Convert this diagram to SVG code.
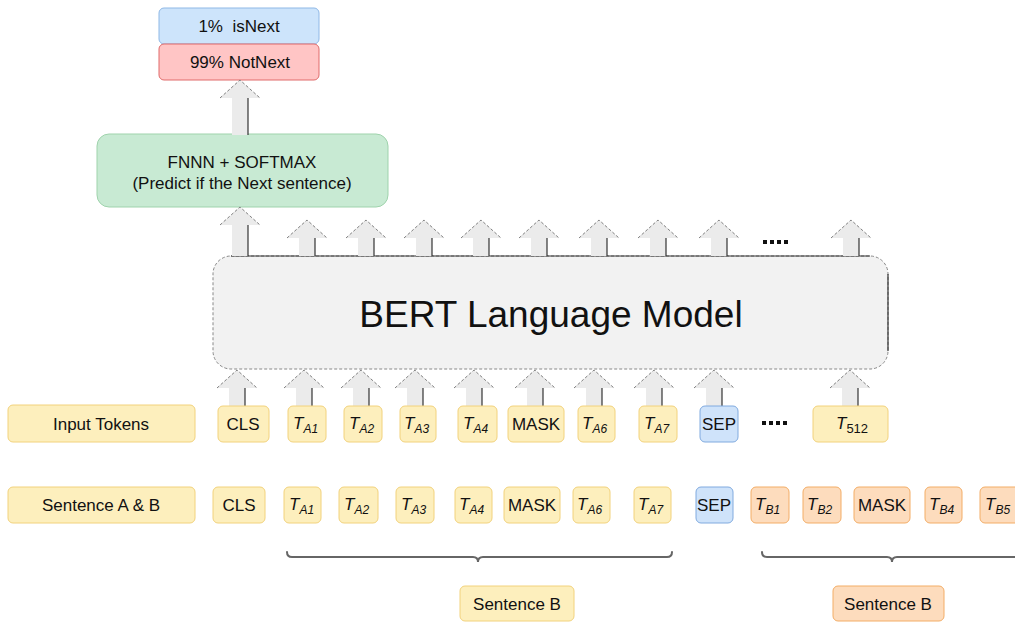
<svg xmlns="http://www.w3.org/2000/svg" width="1015" height="622" viewBox="0 0 1015 622">
  <style>
    text { font-family: "Liberation Sans", Arial, sans-serif; fill: #111; }
    .lbl { font-size: 17px; text-anchor: middle; }
    .tok { font-size: 17px; text-anchor: middle; }
    .t { font-style: italic; font-size: 17px; }
    .sub { font-style: italic; font-size: 12px; }
    .yel { fill: #fdefbd; stroke: #f2d27c; stroke-width: 1; }
    .org { fill: #fddcbd; stroke: #f3ad66; stroke-width: 1; }
    .blu { fill: #cfe3fa; stroke: #80aadf; stroke-width: 1; }
    .shaft { fill: #ebebeb; }
    .head { fill: none; stroke: #808080; stroke-width: 1; stroke-dasharray: 3 2; }
    .edge { fill: none; stroke: #333; stroke-width: 1.2; }
    .brace { fill: none; stroke: #666; stroke-width: 2; stroke-linecap: round; }
  </style>
  <defs>
    <!-- block arrow, tip at (0,0), 36px long -->
    <g id="arr36">
      <polygon class="shaft" points="-8,36 -8,18 -20,18 0,0 20,18 8,18 8,36"/>
      <path class="head" d="M-20,18 L0,0 L20,18"/>
      <path class="edge" d="M8,18 V36"/>
    </g>
    <g id="arr49">
      <polygon class="shaft" points="-8,49 -8,18 -20,18 0,0 20,18 8,18 8,49"/>
      <path class="head" d="M-20,18 L0,0 L20,18"/>
      <path class="edge" d="M8,18 V49"/>
    </g>
    <g id="arr55">
      <polygon class="shaft" points="-8,55 -8,18 -20,18 0,0 20,18 8,18 8,55"/>
      <path class="head" d="M-20,18 L0,0 L20,18"/>
      <path class="edge" d="M8,18 V55"/>
    </g>
  </defs>

  <!-- output probabilities -->
  <g id="out-isnext">
    <rect x="159" y="8" width="160" height="36" rx="5" fill="#cde4fb" stroke="#8fb8e6"/>
    <text class="lbl" x="239" y="32" xml:space="preserve">1%  isNext</text>
  </g>
  <g id="out-notnext">
    <rect x="159" y="44" width="160" height="36" rx="5" fill="#ffc5c5" stroke="#e06b6b"/>
    <text class="lbl" x="240" y="68">99% NotNext</text>
  </g>

  <!-- classifier head -->
  <g id="fnnn">
    <rect x="97" y="134" width="291" height="73" rx="12" fill="#c8ead3" stroke="#9fd3ac"/>
    <text class="lbl" x="242" y="168">FNNN + SOFTMAX</text>
    <text class="lbl" x="242" y="189">(Predict if the Next sentence)</text>
  </g>

  <!-- encoder -->
  <g id="bert">
    <rect x="213" y="256" width="675" height="113" rx="18" fill="#f2f2f2" stroke="#888" stroke-dasharray="3 2"/>
    <path class="edge" d="M231,256 H870"/>
    <path class="edge" d="M888,274 V351"/>
    <text x="551" y="327" font-size="37" text-anchor="middle">BERT Language Model</text>
  </g>

  <!-- connectors -->
  <g id="connectors">
    <use href="#arr55" x="240" y="80"/>
    <use href="#arr49" x="240" y="207"/>
    <use href="#arr36" x="307" y="220"/>
    <use href="#arr36" x="366" y="220"/>
    <use href="#arr36" x="424" y="220"/>
    <use href="#arr36" x="481" y="220"/>
    <use href="#arr36" x="539" y="220"/>
    <use href="#arr36" x="599" y="220"/>
    <use href="#arr36" x="658" y="220"/>
    <use href="#arr36" x="719" y="220"/>
    <use href="#arr36" x="851" y="220"/>
    <use href="#arr36" x="237" y="370"/>
    <use href="#arr36" x="304" y="370"/>
    <use href="#arr36" x="361" y="370"/>
    <use href="#arr36" x="415" y="370"/>
    <use href="#arr36" x="474" y="370"/>
    <use href="#arr36" x="535" y="370"/>
    <use href="#arr36" x="594" y="370"/>
    <use href="#arr36" x="654" y="370"/>
    <use href="#arr36" x="714" y="370"/>
    <use href="#arr36" x="850" y="370"/>
    <path class="brace" d="M287,552 Q287,557 292,557 H473 Q478,557 478,562 Q478,557 483,557 H667 Q672,557 672,552"/>
    <path class="brace" d="M762,552 Q762,557 767,557 H887 Q892,557 892,562 Q892,557 897,557 H1020"/>
  </g>

  <!-- ellipses -->
  <g id="dots-top" fill="#111">
    <rect x="763" y="240" width="4" height="4"/><rect x="770" y="240" width="4" height="4"/>
    <rect x="777" y="240" width="4" height="4"/><rect x="784" y="240" width="4" height="4"/>
  </g>
  <g id="dots-mid" fill="#111">
    <rect x="762" y="421" width="4" height="4"/><rect x="769" y="421" width="4" height="4"/>
    <rect x="776" y="421" width="4" height="4"/><rect x="783" y="421" width="4" height="4"/>
  </g>

  <!-- input token row -->
  <g id="row-input">
    <g id="in-label"><rect class="yel" x="8" y="405" width="187" height="37" rx="5"/><text class="lbl" x="101" y="430">Input Tokens</text></g>
    <g id="in-cls"><rect class="yel" x="218" y="406" width="51" height="36" rx="5"/><text class="tok" x="243" y="430">CLS</text></g>
    <g id="in-ta1"><rect class="yel" x="288" y="406" width="38" height="36" rx="5"/><text x="293" y="429"><tspan class="t">T</tspan><tspan class="sub" dy="4">A1</tspan></text></g>
    <g id="in-ta2"><rect class="yel" x="344" y="406" width="38" height="36" rx="5"/><text x="349" y="429"><tspan class="t">T</tspan><tspan class="sub" dy="4">A2</tspan></text></g>
    <g id="in-ta3"><rect class="yel" x="400" y="406" width="36" height="36" rx="5"/><text x="404" y="429"><tspan class="t">T</tspan><tspan class="sub" dy="4">A3</tspan></text></g>
    <g id="in-ta4"><rect class="yel" x="458" y="406" width="39" height="36" rx="5"/><text x="463" y="429"><tspan class="t">T</tspan><tspan class="sub" dy="4">A4</tspan></text></g>
    <g id="in-mask"><rect class="yel" x="508" y="406" width="56" height="36" rx="5"/><text class="tok" x="536" y="430">MASK</text></g>
    <g id="in-ta6"><rect class="yel" x="578" y="406" width="37" height="36" rx="5"/><text x="582" y="429"><tspan class="t">T</tspan><tspan class="sub" dy="4">A6</tspan></text></g>
    <g id="in-ta7"><rect class="yel" x="639" y="406" width="38" height="36" rx="5"/><text x="644" y="429"><tspan class="t">T</tspan><tspan class="sub" dy="4">A7</tspan></text></g>
    <g id="in-sep"><rect class="blu" x="700" y="406" width="38" height="36" rx="5"/><text class="tok" x="719" y="430">SEP</text></g>
    <g id="in-t512"><rect class="yel" x="813" y="406" width="75" height="36" rx="5"/><text x="836" y="429"><tspan class="t">T</tspan><tspan font-size="13" dy="4">512</tspan></text></g>
  </g>

  <!-- sentence pair row -->
  <g id="row-sentence">
    <g id="s-label"><rect class="yel" x="8" y="487" width="187" height="36" rx="5"/><text class="lbl" x="101" y="511">Sentence A &amp; B</text></g>
    <g id="s-cls"><rect class="yel" x="213" y="487" width="52" height="36" rx="5"/><text class="tok" x="239" y="511">CLS</text></g>
    <g id="s-ta1"><rect class="yel" x="284" y="487" width="37" height="36" rx="5"/><text x="289" y="510"><tspan class="t">T</tspan><tspan class="sub" dy="4">A1</tspan></text></g>
    <g id="s-ta2"><rect class="yel" x="339" y="487" width="39" height="36" rx="5"/><text x="344" y="510"><tspan class="t">T</tspan><tspan class="sub" dy="4">A2</tspan></text></g>
    <g id="s-ta3"><rect class="yel" x="396" y="487" width="38" height="36" rx="5"/><text x="401" y="510"><tspan class="t">T</tspan><tspan class="sub" dy="4">A3</tspan></text></g>
    <g id="s-ta4"><rect class="yel" x="455" y="487" width="37" height="36" rx="5"/><text x="459" y="510"><tspan class="t">T</tspan><tspan class="sub" dy="4">A4</tspan></text></g>
    <g id="s-mask"><rect class="yel" x="504" y="487" width="56" height="36" rx="5"/><text class="tok" x="532" y="511">MASK</text></g>
    <g id="s-ta6"><rect class="yel" x="573" y="487" width="37" height="36" rx="5"/><text x="577" y="510"><tspan class="t">T</tspan><tspan class="sub" dy="4">A6</tspan></text></g>
    <g id="s-ta7"><rect class="yel" x="634" y="487" width="37" height="36" rx="5"/><text x="638" y="510"><tspan class="t">T</tspan><tspan class="sub" dy="4">A7</tspan></text></g>
    <g id="s-sep"><rect class="blu" x="696" y="487" width="37" height="36" rx="5"/><text class="tok" x="714" y="511">SEP</text></g>
    <g id="s-tb1"><rect class="org" x="751" y="487" width="38" height="36" rx="5"/><text x="755" y="510"><tspan class="t">T</tspan><tspan class="sub" dy="4">B1</tspan></text></g>
    <g id="s-tb2"><rect class="org" x="803" y="487" width="38" height="36" rx="5"/><text x="807" y="510"><tspan class="t">T</tspan><tspan class="sub" dy="4">B2</tspan></text></g>
    <g id="s-mask-b"><rect class="org" x="854" y="487" width="56" height="36" rx="5"/><text class="tok" x="882" y="511">MASK</text></g>
    <g id="s-tb4"><rect class="org" x="925" y="487" width="37" height="36" rx="5"/><text x="929" y="510"><tspan class="t">T</tspan><tspan class="sub" dy="4">B4</tspan></text></g>
    <g id="s-tb5"><rect class="org" x="980" y="487" width="40" height="36" rx="5"/><text x="985" y="510"><tspan class="t">T</tspan><tspan class="sub" dy="4">B5</tspan></text></g>
  </g>

  <!-- segment labels -->
  <g id="seg-a"><rect class="yel" x="460" y="586" width="114" height="35" rx="5"/><text class="lbl" x="517" y="610">Sentence B</text></g>
  <g id="seg-b"><rect class="org" x="833" y="586" width="111" height="35" rx="5"/><text class="lbl" x="888" y="610">Sentence B</text></g>
</svg>
